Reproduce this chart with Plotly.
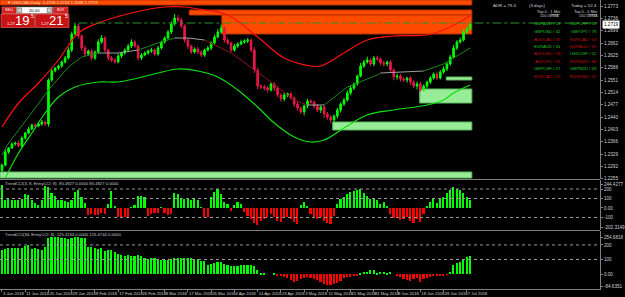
import plotly.graph_objects as go

# ---------------- data ----------------
close = [
    1.2296, 1.2335, 1.2347, 1.2359, 1.2362, 1.2353, 1.2377, 1.2392, 1.2404, 1.2416,
    1.2413, 1.2419, 1.2425, 1.2419, 1.2551, 1.2578, 1.2587, 1.2593, 1.2605, 1.2617,
    1.2641, 1.2689, 1.2713, 1.2683, 1.2647, 1.2629, 1.2638, 1.2617, 1.2635, 1.2665,
    1.2677, 1.2641, 1.2617, 1.2611, 1.2605, 1.2623, 1.2632, 1.2641, 1.2653, 1.2665,
    1.2653, 1.2617, 1.2626, 1.2632, 1.2638, 1.2641, 1.2629, 1.2647, 1.2665, 1.2677,
    1.2695, 1.2719, 1.2737, 1.2731, 1.2713, 1.2671, 1.2653, 1.2635, 1.2644, 1.2635,
    1.2626, 1.2641, 1.2647, 1.2662, 1.2680, 1.2695, 1.2707, 1.2671, 1.2662, 1.2641,
    1.2653, 1.2659, 1.2665, 1.2668, 1.2671, 1.2641, 1.2581, 1.2533, 1.2530, 1.2527,
    1.2521, 1.2539, 1.2527, 1.2506, 1.2494, 1.2506, 1.2509, 1.2497, 1.2479, 1.2467,
    1.2455, 1.2473, 1.2488, 1.2485, 1.2473, 1.2461, 1.2470, 1.2449, 1.2440, 1.2431,
    1.2443, 1.2461, 1.2479, 1.2491, 1.2512, 1.2527, 1.2539, 1.2563, 1.2593, 1.2605,
    1.2611, 1.2599, 1.2617, 1.2614, 1.2602, 1.2599, 1.2605, 1.2581, 1.2560, 1.2563,
    1.2554, 1.2551, 1.2557, 1.2545, 1.2533, 1.2539, 1.2521, 1.2533, 1.2545, 1.2557,
    1.2569, 1.2557, 1.2575, 1.2584, 1.2599, 1.2620, 1.2647, 1.2665, 1.2671, 1.2695,
    1.2704, 1.2719,
]
open_ = [
    1.2280, 1.2296, 1.2335, 1.2347, 1.2359, 1.2362, 1.2353, 1.2377, 1.2392, 1.2404,
    1.2416, 1.2413, 1.2419, 1.2425, 1.2419, 1.2551, 1.2578, 1.2587, 1.2593, 1.2605,
    1.2617, 1.2641, 1.2689, 1.2713, 1.2683, 1.2647, 1.2629, 1.2638, 1.2617, 1.2635,
    1.2665, 1.2677, 1.2641, 1.2617, 1.2611, 1.2605, 1.2623, 1.2632, 1.2641, 1.2653,
    1.2665, 1.2653, 1.2617, 1.2626, 1.2632, 1.2638, 1.2641, 1.2629, 1.2647, 1.2665,
    1.2677, 1.2695, 1.2719, 1.2737, 1.2731, 1.2713, 1.2671, 1.2653, 1.2635, 1.2644,
    1.2635, 1.2626, 1.2641, 1.2647, 1.2662, 1.2680, 1.2695, 1.2707, 1.2671, 1.2662,
    1.2641, 1.2653, 1.2659, 1.2665, 1.2668, 1.2671, 1.2641, 1.2581, 1.2533, 1.2530,
    1.2527, 1.2521, 1.2539, 1.2527, 1.2506, 1.2494, 1.2506, 1.2509, 1.2497, 1.2479,
    1.2467, 1.2455, 1.2473, 1.2488, 1.2485, 1.2473, 1.2461, 1.2470, 1.2449, 1.2440,
    1.2431, 1.2443, 1.2461, 1.2479, 1.2491, 1.2512, 1.2527, 1.2539, 1.2563, 1.2593,
    1.2605, 1.2611, 1.2599, 1.2617, 1.2614, 1.2602, 1.2599, 1.2605, 1.2581, 1.2560,
    1.2563, 1.2554, 1.2551, 1.2557, 1.2545, 1.2533, 1.2539, 1.2521, 1.2533, 1.2545,
    1.2557, 1.2569, 1.2557, 1.2575, 1.2584, 1.2599, 1.2620, 1.2647, 1.2665, 1.2671,
    1.2695, 1.2704,
]
# upper / lower shadow length of each candle, in points (0.0001)
wick_hi = [
    4, 6, 3, 5, 4, 7, 5, 3, 6, 4,
    5, 3, 6, 4, 5, 6, 3, 4, 5, 6,
    8, 7, 10, 6, 5, 7, 4, 6, 5, 8,
    9, 5, 4, 6, 5, 7, 4, 5, 6, 8,
    5, 4, 6, 5, 4, 7, 5, 6, 4, 5,
    6, 8, 12, 9, 7, 5, 6, 4, 5, 6,
    5, 4, 6, 5, 7, 9, 10, 6, 5, 4,
    6, 5, 7, 5, 6, 4, 8, 6, 5, 7,
    6, 4, 5, 6, 5, 7, 4, 6, 5, 6,
    4, 5, 7, 5, 4, 6, 5, 7, 6, 5,
    4, 6, 5, 7, 8, 6, 5, 4, 9, 6,
    10, 5, 6, 7, 5, 8, 4, 6, 5, 7,
    6, 5, 4, 6, 5, 7, 6, 5, 4, 6,
    5, 7, 6, 8, 5, 6, 9, 5, 7, 8,
    6, 7,
]
wick_lo = [
    5, 4, 6, 3, 5, 4, 6, 5, 4, 3,
    6, 4, 5, 6, 8, 5, 4, 6, 5, 4,
    5, 6, 4, 8, 9, 6, 5, 7, 6, 4,
    5, 7, 8, 6, 5, 4, 6, 5, 4, 6,
    5, 8, 6, 4, 5, 6, 7, 5, 4, 5,
    4, 6, 5, 7, 6, 8, 9, 6, 5, 7,
    6, 5, 4, 6, 5, 4, 5, 8, 6, 7,
    5, 6, 4, 5, 6, 7, 9, 10, 6, 8,
    7, 5, 9, 6, 8, 7, 6, 5, 9, 8,
    6, 10, 7, 5, 8, 6, 9, 12, 8, 10,
    9, 7, 8, 6, 5, 7, 6, 5, 4, 6,
    5, 6, 7, 5, 6, 8, 7, 6, 10, 8,
    7, 6, 8, 9, 7, 10, 6, 5, 7, 6,
    5, 6, 4, 5, 6, 5, 4, 6, 5, 4,
    5, 4,
]

# channel lines (bar index, price)
upper_i = [0, 5, 11, 17, 23, 29, 39, 49, 55, 61, 68, 77, 85, 93, 96, 103, 110, 118, 128, 133, 141]
upper_p = [1.2410, 1.2482, 1.2542, 1.2611, 1.2692, 1.2722, 1.2752, 1.2770, 1.2770, 1.2761, 1.2746,
           1.2680, 1.2617, 1.2593, 1.2593, 1.2632, 1.2671, 1.2683, 1.2686, 1.2701, 1.2743]
lower_i = [1, 5, 9, 13, 17, 22, 29, 35, 41, 47, 53, 59, 65, 71, 77, 82, 88, 93, 97, 103, 110, 118, 128, 133, 136, 141]
lower_p = [1.2257, 1.2332, 1.2392, 1.2452, 1.2500, 1.2530, 1.2545, 1.2545, 1.2557, 1.2572, 1.2584,
           1.2578, 1.2560, 1.2521, 1.2470, 1.2422, 1.2380, 1.2365, 1.2371, 1.2407, 1.2446, 1.2461,
           1.2476, 1.2491, 1.2512, 1.2536]
mid_i = [0, 2, 8, 14, 20, 24, 29, 35, 41, 47, 52, 56, 61, 69, 79, 88, 92, 97, 104, 113, 114, 127, 133, 141]
mid_p = [1.2326, 1.2362, 1.2440, 1.2521, 1.2590, 1.2620, 1.2632, 1.2632, 1.2641, 1.2662, 1.2677,
         1.2677, 1.2671, 1.2632, 1.2560, 1.2491, 1.2476, 1.2476, 1.2530, 1.2566, 1.2572, 1.2578,
         1.2599, 1.2647]

# indicator panes
cci_fast = [
    240, 80, 90, 80, 80, 80, 90, 150, 140, 80, 50, 30, 80, 230, 220, 160, 130, 80, 80, 70,
    60, 80, 170, 185, 120, 50, -70, -60, -70, -70, -50, -60, 40, 180, 20, -100, -110, -100, -110, 5,
    30, 130, 130, 120, -80, -60, -50, -50, 10, -50, -70, -60, 160, 150, 90, 100, 100, 80, 90, 80,
    5, -100, -90,
    120, 170, 200, 150, 60, 40, -30, 30, 60, 40, -40, -80, -120, -160, -180, -140, -120, -90,
    -60, -100, -140, -150, -110, -90, -120, -150, -170, 30, 60, 20, -60, -90, -120, -100, -140, -160, -170,
    -80, 40, 90, 120, 150, 170, 180, 190, 200, 160, 130, 90, 110, 80, 40, 60, 20,
    -60, -110, -100, -130, -120, -90, -140, -160, -120, -150, -60, 20, 60, 90,
    50, 100, 120, 160, 190, 220, 200, 190, 160, 120, 85,
]
cci_slow = [
    166, 172, 182, 177, 182, 177, 182, 195, 200, 172, 182, 172, 166, 188, 250, 254, 254, 252, 250, 246,
    241, 250, 252, 252, 250, 246, 188, 188, 177, 172, 177, 159, 166, 166, 154, 136, 131, 126, 131, 126,
    126, 131, 126, 108, 103, 108, 108, 103, 99, 94, 97, 103, 108, 108, 113, 108, 113, 113, 105, 100,
    92, 88,
    64, 71, 76, 80, 80, 71, 60, 55, 55, 55, 60, 64, 64, 64, 55, 28, 7,
    2, 0, 0, 4, -10, -16, -20, -25, -40, -53, -45, -35,
    -30, -18, -25, -37, -43, -55, -67, -78, -74, -68, -60, -50, -30, -22, -18, -14,
    -9, 5, 16, 16, 28, 30, 9, 14, 16, 10, 14,
    0, -9, -20, -35, -43, -48, -37, -30, -55, -35, -25, -20, -14,
    -14, -12, -10, -3, 16, 62,
    76, 85, 100, 115, 124,
]

date_pos = [0, 7, 14, 21, 28, 35, 42, 49, 56, 63, 70, 77, 84, 91, 98, 105, 112, 119, 126, 133, 140]
date_labels = ["3 Jan 2018", "11 Jan 2018", "20 Jan 2018", "29 Jan 2018", "8 Feb 2018", "17 Feb 2018",
               "26 Feb 2018", "8 Mar 2018", "17 Mar 2018", "26 Mar 2018", "4 Apr 2018", "14 Apr 2018",
               "23 Apr 2018", "3 May 2018", "12 May 2018", "21 May 2018", "31 May 2018", "9 Jun 2018",
               "18 Jun 2018", "28 Jun 2018", "7 Jul 2018"]
price_ticks = [1.2773, 1.2736, 1.2699, 1.2662, 1.2625, 1.2588, 1.2551, 1.2514, 1.2477, 1.2440,
               1.2403, 1.2366, 1.2329, 1.2292, 1.2255]
last_price = 1.2719
level_price = 1.2722
level_start = 23

supply_x0 = [-0.6, 56.4, 66.2]
supply_top = [1.2791, 1.2761, 1.2746]
supply_bot = [1.2776, 1.2746, 1.2689]
demand_x0 = [99.6, 125.8, 133.8, -0.6]
demand_top = [1.2425, 1.2524, 1.2560, 1.2275]
demand_bot = [1.2401, 1.2482, 1.2551, 1.2257]
zone_end = 141.5

fast_ticks = [244.4277, 200, 100, 0, -100, -202.3149]
fast_ticktext = ["244.4277", "200", "100", "0.00", "-100", "-202.3149"]
slow_ticks = [254.6818, 200, 100, 0, -84.6351]
slow_ticktext = ["254.6818", "200", "100", "0.00", "-84.6351"]

pairs_left = ["GBPAUD / 59", "GBPUSD / 42", "AUDCAD / 37", "EURAUD / 31",
              "AUDUSD / 28", "AUDJPY / 26", "GBPCHF / 27", "EURCAD / 25"]
pairs_left_up = [True, True, False, True, False, False, True, False]
pairs_right = ["GBPCHF / 91", "GBPJPY / 79", "EURCAD / 63", "EURAUD / 61",
               "USDCHF / 52", "EURNZD / 46", "GBPNZD / 68", "EURUSD / 47"]
pairs_right_up = [True, True, False, False, True, False, True, False]

# ---------------- figure ----------------
W, H = 625, 297
ML, MR, MT, MB = 0, 16, 0, 8
PW, PH = W - ML - MR, H - MT - MB
FONT = "Liberation Sans"
GRAY = "#808080"


def px(x):
    return x / PW


def py(y):
    return 1 - y / PH


n = len(close)
idx = list(range(n))
high = [max(o, c) + w * 0.0001 for o, c, w in zip(open_, close, wick_hi)]
low = [min(o, c) - w * 0.0001 for o, c, w in zip(open_, close, wick_lo)]

fig = go.Figure()

fig.add_trace(go.Candlestick(
    x=idx, open=open_, high=high, low=low, close=close,
    increasing=dict(line=dict(color="#00ff00", width=1), fillcolor="#00ff00"),
    decreasing=dict(line=dict(color="#e8174a", width=1), fillcolor="#e8174a"),
    whiskerwidth=0, xaxis="x", yaxis="y", hoverinfo="skip"))

fig.add_trace(go.Scatter(x=upper_i, y=upper_p, mode="lines", line=dict(color="#ff1010", width=1.2, shape="spline"),
                         xaxis="x", yaxis="y", hoverinfo="skip"))
fig.add_trace(go.Scatter(x=lower_i, y=lower_p, mode="lines", line=dict(color="#10e010", width=1.2, shape="spline"),
                         xaxis="x", yaxis="y", hoverinfo="skip"))
for k in range(len(mid_i) - 1):
    slope = (mid_p[k + 1] - mid_p[k]) / (mid_i[k + 1] - mid_i[k])
    col = "#1a8a1a" if slope > 0.00015 else ("#8c1a1a" if slope < -0.00015 else "#a0a0a0")
    fig.add_trace(go.Scatter(x=mid_i[k:k + 2], y=mid_p[k:k + 2], mode="lines",
                             line=dict(color=col, width=1), xaxis="x", yaxis="y", hoverinfo="skip"))

# current level dash-dot line
fig.add_trace(go.Scatter(x=[level_start, 182], y=[level_price, level_price], mode="lines",
                         line=dict(color="#2f8f2f", width=1, dash="dashdot"), xaxis="x", yaxis="y",
                         hoverinfo="skip"))

fig.add_trace(go.Bar(x=idx, y=cci_fast, width=0.5,
                     marker=dict(color=["#00ff00" if v >= 0 else "#ff0000" for v in cci_fast], line=dict(width=0)),
                     xaxis="x", yaxis="y2", hoverinfo="skip"))
fig.add_trace(go.Bar(x=idx, y=cci_slow, width=0.5,
                     marker=dict(color=["#00ff00" if v >= 0 else "#ff0000" for v in cci_slow], line=dict(width=0)),
                     xaxis="x", yaxis="y3", hoverinfo="skip"))

shapes = []
for x0, t, b in zip(supply_x0, supply_top, supply_bot):
    shapes.append(dict(type="rect", xref="x", yref="y", x0=x0, x1=zone_end, y0=b, y1=t,
                       fillcolor="#ff4a00", line=dict(color="#b83000", width=1), layer="below"))
for x0, t, b in zip(demand_x0, demand_top, demand_bot):
    shapes.append(dict(type="rect", xref="x", yref="y", x0=x0, x1=zone_end, y0=b, y1=t,
                       fillcolor="#98ec98", line=dict(color="#5cb85c", width=1), layer="below"))

# dotted levels in indicator panes
for v in [200, 100, -100]:
    shapes.append(dict(type="line", xref="paper", yref="y2", x0=0, x1=1, y0=v, y1=v,
                       line=dict(color="#9a9a9a", width=1, dash="dot")))
for v in [200, 100]:
    shapes.append(dict(type="line", xref="paper", yref="y3", x0=0, x1=1, y0=v, y1=v,
                       line=dict(color="#9a9a9a", width=1, dash="dot")))

# pane separators
for yy in [179.5, 230.5]:
    shapes.append(dict(type="line", xref="paper", yref="paper", x0=0, x1=1, y0=py(yy), y1=py(yy),
                       line=dict(color=GRAY, width=1)))

# one-click trading panel
panel = [
    (2, 7, 17, 13.5, "#d42020", "#ff7070"),
    (17, 7, 53, 13.5, "#ffffff", "#a0a0a0"),
    (18, 8, 22, 12.5, "#d0d0d0", "#606060"),
    (48, 8, 52, 12.5, "#d0d0d0", "#606060"),
    (54, 7, 69, 13.5, "#d42020", "#ff7070"),
    (1, 14, 35, 27.5, "#c81414", "#ff6a6a"),
    (36, 14, 70, 27.5, "#c81414", "#ff6a6a"),
]
for x0, y0, x1, y1, fc, lc in panel:
    shapes.append(dict(type="rect", xref="paper", yref="paper", x0=px(x0), x1=px(x1), y0=py(y1), y1=py(y0),
                       fillcolor=fc, line=dict(color=lc, width=0.6), layer="above"))

ann = []


def text(x, y, s, color="#c8c8c8", size=4.8, xanchor="left"):
    ann.append(dict(xref="paper", yref="paper", x=px(x), y=py(y), text=s, showarrow=False,
                    xanchor=xanchor, yanchor="middle", font=dict(family=FONT, size=size, color=color)))


text(5, 2.6, "\u25bc USDCAD,Daily  1.2705 1.2724 1.2696 1.2719", "#ffe0d0", 4.2)
text(9.5, 10.3, "SELL", "#ffffff", 3.6, "center")
text(35, 10.3, "20.00", "#000000", 4.2, "center")
text(61.5, 10.3, "BUY", "#ffffff", 3.6, "center")
text(5, 23, "1.27", "#ffffff", 4, "left")
text(13, 20.5, "19", "#ffffff", 13, "left")
text(29, 16.5, "5", "#ffffff", 5, "left")
text(40, 23, "1.27", "#ffffff", 4, "left")
text(48, 20.5, "21", "#ffffff", 13, "left")
text(64, 16.5, "5", "#ffffff", 5, "left")

text(498, 6, "ADR = 79.4", "#d0d0d0", 4.4)
text(535, 6, "(3 days)", "#d0d0d0", 4.4)
text(608, 6, "Today = 52.4", "#d0d0d0", 4.4, "right")
text(570, 11, "Top 0 - <u>1 Min</u>", "#d0d0d0", 4.0, "right")
text(608, 11, "Top 0 - <u>5 Min</u>", "#d0d0d0", 4.0, "right")
text(558, 16, "150 LWMA", "#d0d0d0", 3.8, "center")
text(597, 16, "150 LWMA", "#d0d0d0", 3.8, "center")
row_y = [24, 31.7, 39.3, 46, 53.3, 61, 68.3, 76]
for yy, s, up in zip(row_y, pairs_left, pairs_left_up):
    text(571, yy, s, "#20c020" if up else "#c01010", 4.3, "right")
for yy, s, up in zip(row_y, pairs_right, pairs_right_up):
    text(608, yy, s, "#20c020" if up else "#c01010", 4.3, "right")

text(3, 183.5, "TrendCCI(3, 8, EntryCCI: 8)  85.4927 0.0000 85.4927 0.0000", "#c8c8c8", 4.2)
text(3, 234, "TrendCCI(34, EntryCCI: 8)  125.4744 0.0000 125.4744 0.0000", "#c8c8c8", 4.2)

# current price label on the price scale
fig.add_annotation(xref="paper", yref="y", x=px(611), y=last_price, text="1.2719", showarrow=False,
                   xanchor="left", yanchor="middle", bgcolor="#ffffff",
                   font=dict(family=FONT, size=4.6, color="#000000"))

axis_common = dict(showgrid=False, zeroline=False, showline=True, linecolor=GRAY, linewidth=1,
                   ticks="outside", ticklen=2, tickcolor=GRAY)

fig.update_layout(
    width=W, height=H, margin=dict(l=ML, r=MR, t=MT, b=MB),
    paper_bgcolor="#000000", plot_bgcolor="#000000", showlegend=False, bargap=0,
    xaxis=dict(domain=[0, 1], range=[-0.6, 180.1], anchor="y3", tickvals=date_pos, ticktext=date_labels,
               tickangle=0, ticklabelposition="outside right", rangeslider=dict(visible=False),
               tickfont=dict(family=FONT, size=4.2, color="#d0d0d0"), **axis_common),
    yaxis=dict(domain=[py(179), 1], range=[1.2254, 1.2791], side="right", anchor="x",
               tickvals=price_ticks, tickformat=".4f",
               tickfont=dict(family=FONT, size=4.6, color="#d0d0d0"), **axis_common),
    yaxis2=dict(domain=[py(230), py(180)], range=[-232, 295], side="right", anchor="x",
                tickvals=fast_ticks, ticktext=fast_ticktext,
                tickfont=dict(family=FONT, size=4.6, color="#d0d0d0"), **axis_common),
    yaxis3=dict(domain=[0, py(231)], range=[-103, 296], side="right", anchor="x",
                tickvals=slow_ticks, ticktext=slow_ticktext,
                tickfont=dict(family=FONT, size=4.6, color="#d0d0d0"), **axis_common),
    shapes=shapes,
    annotations=fig.layout.annotations + tuple(ann),
)

fig.write_html("out.html")
